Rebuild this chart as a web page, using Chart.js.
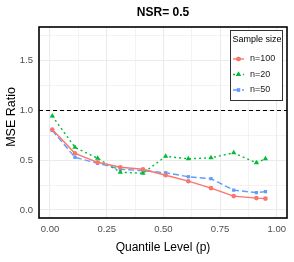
<!DOCTYPE html>
<html><head><meta charset="utf-8">
<script src="https://cdn.jsdelivr.net/npm/chart.js@4/dist/chart.umd.min.js"></script>
<style>html,body{margin:0;padding:0;background:#fff}#wrap{width:294px;height:262px}</style>
</head><body><div id="wrap"><canvas id="c" width="294" height="262"></canvas></div>
<script>
const quantiles = [0.01, 0.11, 0.21, 0.31, 0.41, 0.51, 0.61, 0.71, 0.81, 0.91, 0.95];
const n100 = [0.81, 0.57, 0.48, 0.43, 0.41, 0.35, 0.29, 0.22, 0.14, 0.12, 0.115];
const n20  = [0.945, 0.63, 0.52, 0.38, 0.37, 0.54, 0.515, 0.525, 0.575, 0.475, 0.515];
const n50  = [0.80, 0.53, 0.47, 0.41, 0.395, 0.375, 0.335, 0.315, 0.20, 0.175, 0.185];
const seriesNames = ['n=100', 'n=20', 'n=50'];
const xTickValues = [0, 0.25, 0.5, 0.75, 1.0];
const yTickValues = [0, 0.5, 1.0, 1.5];
const refLine = 1.0;
const titleText = 'NSR= 0.5';
const yTitle = 'MSE Ratio';
const xTitle = 'Quantile Level (p)';
const legendTitle = 'Sample size';

const colors = ['#F8766D', '#00BA38', '#619CFF'];
const dashes = [[], [2, 3], [6, 3]];
const shapes = ['circle', 'triangle', 'rect'];
const seriesVals = [n100, n20, n50];

const datasets = seriesVals.map((vals, i) => ({
  label: seriesNames[i],
  data: quantiles.map((q, j) => ({x: q, y: vals[j]})),
  borderColor: colors[i],
  backgroundColor: colors[i],
  borderWidth: 1.4,
  borderDash: dashes[i],
  pointStyle: shapes[i],
  pointRadius: i === 1 ? 3 : 2.3,
  pointBorderWidth: 0,
  tension: 0
}));

const FONT = "'Liberation Sans', Arial, sans-serif";

const extras = {
  id: 'extras',
  beforeDatasetsDraw(chart) {
    const {ctx, chartArea: a, scales: {y}} = chart;
    const yy = y.getPixelForValue(refLine);
    ctx.save();
    ctx.strokeStyle = '#000';
    ctx.lineWidth = 1.1;
    ctx.setLineDash([4, 3]);
    ctx.beginPath(); ctx.moveTo(a.left, yy); ctx.lineTo(a.right, yy); ctx.stroke();
    ctx.restore();
  },
  afterDraw(chart) {
    const {ctx, chartArea: a} = chart;
    ctx.save();
    ctx.strokeStyle = '#000';
    ctx.lineWidth = 1.6;
    ctx.strokeRect(a.left, a.top, a.right - a.left, a.bottom - a.top);
    ctx.fillStyle = '#000';
    ctx.font = 'bold 12px ' + FONT;
    ctx.textAlign = 'center'; ctx.textBaseline = 'middle';
    ctx.fillText(titleText, (a.left + a.right) / 2, 13);
    // y title
    ctx.save();
    ctx.font = '12.5px ' + FONT;
    ctx.translate(11.5, 117);
    ctx.rotate(-Math.PI / 2);
    ctx.fillText(yTitle, 0, 0);
    ctx.restore();
    // legend
    const lx = 230, ly = 30, lw = 52, lh = 70;
    ctx.fillStyle = '#fff';
    ctx.fillRect(lx, ly, lw, lh);
    ctx.strokeStyle = '#333';
    ctx.lineWidth = 1;
    ctx.strokeRect(lx + 0.5, ly + 0.5, lw, lh);
    ctx.fillStyle = '#000';
    ctx.font = '9px ' + FONT;
    ctx.textAlign = 'left';
    ctx.fillText(legendTitle, lx + 2.5, 40);
    const rows = [59, 74.5, 90];
    chart.data.datasets.forEach((ds, i) => {
      const ry = rows[i];
      ctx.strokeStyle = ds.borderColor;
      ctx.lineWidth = 1.4;
      ctx.setLineDash(ds.borderDash);
      ctx.beginPath(); ctx.moveTo(lx + 3, ry); ctx.lineTo(lx + 14, ry); ctx.stroke();
      ctx.setLineDash([]);
      ctx.fillStyle = ds.borderColor;
      Chart.helpers.drawPoint(ctx, {pointStyle: ds.pointStyle, radius: ds.pointRadius, borderWidth: 0}, lx + 8.5, ry);
      ctx.fill();
      ctx.fillStyle = '#222';
      ctx.fillText(ds.label, lx + 20, ry);
    });
    ctx.restore();
  }
};

const gridColor = '#EBEBEB';
function isMajor(v, majors) { return majors.some(m => Math.abs(m - v) < 1e-6); }

new Chart(document.getElementById('c'), {
  type: 'line',
  data: {datasets},
  options: {
    responsive: false,
    animation: false,
    layout: {padding: {top: 27, right: 7, left: 0, bottom: 0}},
    plugins: {legend: {display: false}, title: {display: false}, tooltip: {enabled: false}},
    scales: {
      x: {
        type: 'linear', min: -0.0485, max: 1.045,
        afterBuildTicks(s) { const t = []; for (let v = 0; v <= 1.0001; v += 0.125) t.push({value: +v.toFixed(3)}); s.ticks = t; },
        afterFit(s) { s.height = 44; },
        ticks: {
          autoSkip: false, maxRotation: 0, padding: 6,
          color: '#4D4D4D', font: {family: FONT, size: 9.5},
          callback: v => isMajor(v, xTickValues) ? v.toFixed(2) : ''
        },
        grid: {
          color: gridColor,
          lineWidth: c => isMajor(c.tick ? c.tick.value : 0, xTickValues) ? 1.1 : 0.6,
          drawTicks: false
        },
        border: {display: false},
        title: {display: true, text: xTitle, color: '#000', font: {family: FONT, size: 12}, padding: {top: 2, bottom: 7}}
      },
      y: {
        type: 'linear', min: -0.08, max: 1.84,
        afterBuildTicks(s) { const t = []; for (let v = 0; v <= 1.7501; v += 0.25) t.push({value: +v.toFixed(3)}); s.ticks = t; },
        afterFit(s) { s.width = 39; },
        ticks: {
          autoSkip: false, padding: 6,
          color: '#4D4D4D', font: {family: FONT, size: 9.5},
          callback: v => isMajor(v, yTickValues) ? v.toFixed(1) : ''
        },
        grid: {
          color: gridColor,
          lineWidth: c => isMajor(c.tick ? c.tick.value : 0, yTickValues) ? 1.1 : 0.6,
          drawTicks: false
        },
        border: {display: false},
        title: {display: false}
      }
    }
  },
  plugins: [extras]
});
</script>
</body></html>
